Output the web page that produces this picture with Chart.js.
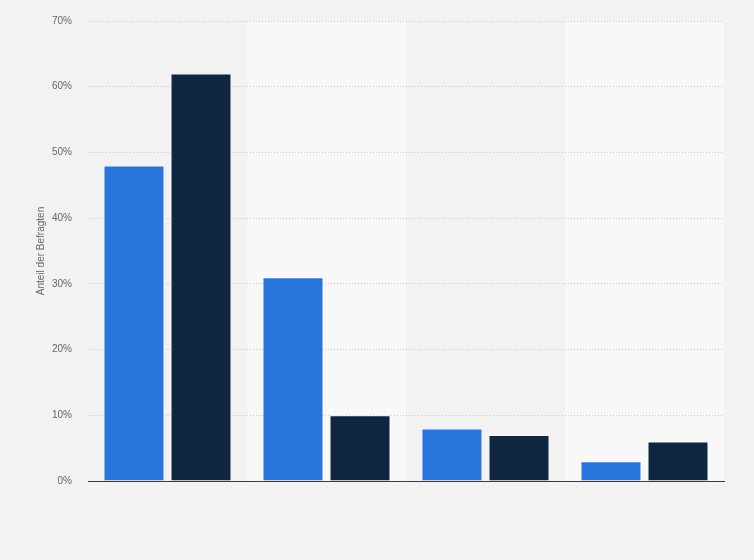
<!DOCTYPE html>
<html>
<head>
<meta charset="utf-8">
<script src="https://cdn.jsdelivr.net/npm/chart.js@4"></script>
<style>
  html, body { margin: 0; padding: 0; background: #f2f2f2; }
  #wrap { width: 754px; height: 560px; }
</style>
</head>
<body>
<div id="wrap"><canvas id="chart" width="754" height="560"></canvas></div>
<script>
// ---- Daten ----
const categories = ['Kategorie 1', 'Kategorie 2', 'Kategorie 3', 'Kategorie 4'];
const seriesA = [48, 31, 8, 3];
const seriesB = [62, 10, 7, 6];
const yTicks = [0, 10, 20, 30, 40, 50, 60, 70];

const COLORS = {
    blue: '#2876dd',
    dark: '#0f2640',
    band: '#f8f8f8',
    text: '#666666'
};

// helle Streifen hinter jeder zweiten Kategorie (unter dem Raster)
const bandPlugin = {
    id: 'bands',
    beforeDraw(chart) {
        const { ctx, chartArea, scales } = chart;
        const x = scales.x;
        const step = (chartArea.right - chartArea.left) / categories.length;
        ctx.save();
        ctx.fillStyle = COLORS.band;
        categories.forEach((c, i) => {
            if (i % 2 === 1) {
                const cx = x.getPixelForValue(i);
                ctx.fillRect(cx - step / 2, chartArea.top, step, chartArea.bottom - chartArea.top);
            }
        });
        ctx.restore();
    }
};

const data = {
    labels: categories,
    datasets: [
        {
            label: 'Serie A',
            data: seriesA,
            backgroundColor: COLORS.blue,
            borderColor: 'rgba(255,255,255,0.45)',
            borderWidth: 1,
            categoryPercentage: 0.843,
            barPercentage: 0.91
        },
        {
            label: 'Serie B',
            data: seriesB,
            backgroundColor: COLORS.dark,
            borderColor: 'rgba(255,255,255,0.45)',
            borderWidth: 1,
            categoryPercentage: 0.843,
            barPercentage: 0.91
        }
    ]
};

const config = {
    type: 'bar',
    data: data,
    plugins: [bandPlugin],
    options: {
        responsive: false,
        animation: false,
        layout: { padding: { top: 10, right: 30, bottom: 79, left: 0 } },
        plugins: {
            legend: { display: false },
            tooltip: { enabled: false }
        },
        scales: {
            x: {
                grid: { display: false, drawTicks: false },
                ticks: { display: false },
                border: { display: true, color: '#3a3a3a', width: 1 },
                afterFit: (scale) => { scale.height = 0; }
            },
            y: {
                min: 0,
                max: 70,
                afterBuildTicks: (scale) => {
                    scale.ticks = yTicks.map(v => ({ value: v }));
                },
                afterFit: (scale) => { scale.width = 88; },
                ticks: {
                    padding: 16,
                    color: COLORS.text,
                    font: { family: 'Liberation Sans', size: 10, lineHeight: 1 },
                    callback: (value) => value + '%'
                },
                grid: {
                    drawTicks: false,
                    color: '#c8c8c8',
                    lineWidth: 1
                },
                border: { display: false, dash: [1, 2] },
                title: {
                    display: true,
                    text: 'Anteil der Befragten',
                    color: COLORS.text,
                    font: { family: 'Liberation Sans', size: 10 },
                    padding: { top: 35, bottom: 0 }
                }
            }
        }
    }
};

const ctx = document.getElementById('chart').getContext('2d');
new Chart(ctx, config);
</script>
</body>
</html>
